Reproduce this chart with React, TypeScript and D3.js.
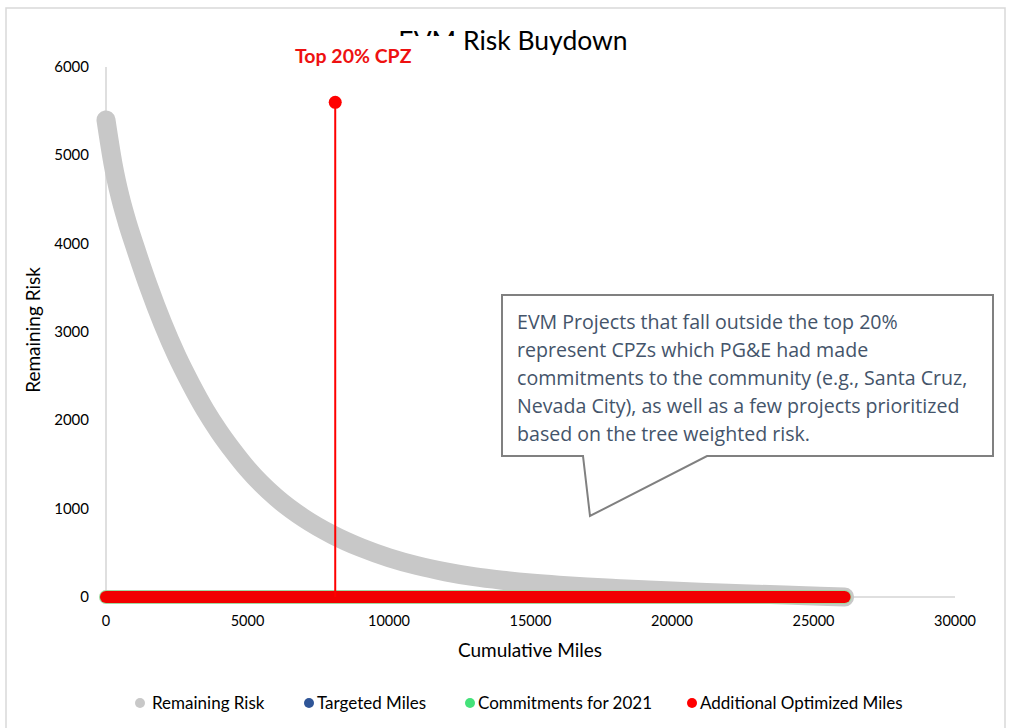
import React from "react"
import * as d3 from "d3"

// Remaining risk curve (cumulative miles -> remaining risk)
const riskMiles = [0, 250, 500, 750, 1000, 1500, 2000, 2500, 3000, 3500, 4000, 4500, 5000, 6000, 7000, 8000, 9000, 10000, 11000, 12000, 13000, 14000, 15000, 16000, 17000, 18000, 19000, 20000, 21000, 22000, 23000, 24000, 25000, 26100]
const riskValues = [5400, 4900, 4530, 4240, 3990, 3520, 3100, 2730, 2410, 2120, 1870, 1650, 1450, 1130, 890, 705, 560, 445, 355, 285, 230, 190, 158, 133, 113, 97, 82, 68, 55, 43, 32, 22, 12, 0]

// Additional optimized / commitments miles sit on the zero line
const optimizedMiles = [0, 2000, 4000, 6000, 8000, 10000, 12000, 14000, 16000, 18000, 20000, 22000, 24000, 26100]
const optimizedValues = [0, 0, 0, 0, 0, 0, 0, 0, 0, 0, 0, 0, 0, 0]

// Top 20% CPZ marker
const cpzMiles = [8100, 8100]
const cpzValues = [0, 5600]

const xTicks = [0, 5000, 10000, 15000, 20000, 25000, 30000]
const yTicks = [0, 1000, 2000, 3000, 4000, 5000, 6000]

const legendLabels = ["Remaining Risk", "Targeted Miles", "Commitments for 2021", "Additional Optimized Miles"]
const legendColors = ["#c8c8c8", "#2f5597", "#44e27a", "#ff0000"]

const noteLines = [
  "EVM Projects that fall outside the top 20%",
  "represent CPZs which PG&E had made",
  "commitments to the community (e.g., Santa Cruz,",
  "Nevada City), as well as a few projects prioritized",
  "based on the tree weighted risk.",
]

const font = "Lato, 'Open Sans', sans-serif"

export default function App() {
  const x = d3.scaleLinear().domain([0, 30000]).range([106, 955])
  const y = d3.scaleLinear().domain([0, 6000]).range([597, 67])

  type P = [number, number]
  const line = d3
    .line<P>()
    .x((d) => x(d[0]))
    .y((d) => y(d[1]))
    .curve(d3.curveMonotoneX)

  const riskPts: P[] = riskMiles.map((m, i) => [m, riskValues[i]])
  const optPts: P[] = optimizedMiles.map((m, i) => [m, optimizedValues[i]])
  const straight = d3
    .line<P>()
    .x((d) => x(d[0]))
    .y((d) => y(d[1]))
  const cpzPts: P[] = cpzMiles.map((m, i) => [m, cpzValues[i]])

  const legendX = [140, 309, 470, 692]

  return (
    <svg width={1011} height={728} style={{ position: "absolute", left: 0, top: 0, background: "#fff" }} fontFamily={font}>
      {/* outer frame */}
      <path d="M6,728 V8 H1005 V728" fill="none" stroke="#d9d9d9" strokeWidth={1.5} />

      {/* title */}
      <text x={513} y={50} textAnchor="middle" fontSize={26.5} fill="#000">
        EVM Risk Buydown
      </text>

      {/* axes */}
      <line x1={x(0)} x2={x(0)} y1={y(6000)} y2={y(0)} stroke="#bfbfbf" strokeWidth={1} />
      <line x1={x(0)} x2={x(30000)} y1={y(0)} y2={y(0)} stroke="#bfbfbf" strokeWidth={1} />

      {yTicks.map((t) => (
        <text key={t} x={89} y={y(t) + 5} textAnchor="end" fontSize={15} fill="#000">
          {t}
        </text>
      ))}
      {xTicks.map((t) => (
        <text key={t} x={x(t)} y={626} textAnchor="middle" fontSize={14.5} fill="#000">
          {t}
        </text>
      ))}

      <text transform={`translate(40, 330) rotate(-90)`} textAnchor="middle" fontSize={19} fill="#000">
        Remaining Risk
      </text>
      <text x={530} y={657} textAnchor="middle" fontSize={19} fill="#000">
        Cumulative Miles
      </text>

      {/* remaining risk (dense markers drawn as a thick round line) */}
      <path d={line(riskPts) ?? ""} fill="none" stroke="#c8c8c8" strokeWidth={19} strokeLinecap="round" strokeLinejoin="round" />

      {/* commitments + additional optimized miles */}
      <path d={line(optPts) ?? ""} fill="none" stroke="#9fd9a0" strokeWidth={14} strokeLinecap="round" />
      <path d={line(optPts) ?? ""} fill="none" stroke="#f20000" strokeWidth={12} strokeLinecap="round" />

      {/* top 20% CPZ */}
      <path d={straight(cpzPts) ?? ""} fill="none" stroke="#ff0000" strokeWidth={2} />
      <circle cx={x(cpzMiles[1])} cy={y(cpzValues[1])} r={6.5} fill="#ff0000" />
      <rect x={288} y={36} width={172} height={33} fill="#fff" />
      <text x={295} y={63} fontSize={19.5} fontWeight="bold" fill="#ee1111">
        Top 20% CPZ
      </text>

      {/* callout */}
      <path
        d="M502,295 H993 V456 H707 L590,516 L583,456 H502 Z"
        fill="#fff"
        stroke="#808080"
        strokeWidth={2}
      />
      {noteLines.map((l, i) => (
        <text key={i} x={517} y={329 + i * 28} fontSize={19.6} fill="#44546a" fontFamily="'Open Sans', sans-serif">
          {l}
        </text>
      ))}

      {/* legend */}
      {legendLabels.map((l, i) => (
        <g key={l} transform={`translate(${legendX[i]}, 703)`}>
          <circle cx={0} cy={0} r={5} fill={legendColors[i]} />
          <text x={i === 0 ? 12 : 8} y={6} fontSize={17} fill="#000">
            {l}
          </text>
        </g>
      ))}
    </svg>
  )
}
